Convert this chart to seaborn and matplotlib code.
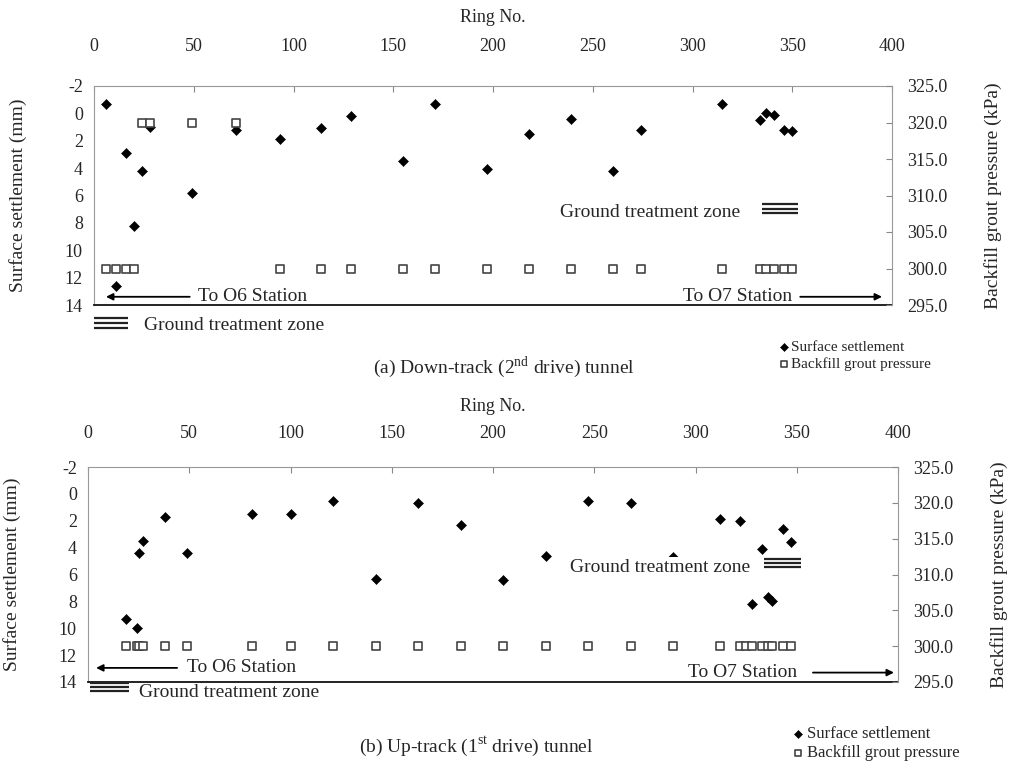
import matplotlib
matplotlib.use('Agg')
import matplotlib.pyplot as plt
import seaborn as sns

# (a) Down-track (2nd drive) tunnel
down_ring = [6, 11, 16, 20, 24, 28, 49, 71, 93, 114, 129, 155, 171, 197, 218, 239,
             260, 274, 315, 334, 337, 341, 346, 350]
down_settle = [-0.7, 12.6, 2.9, 8.2, 4.2, 1.0, 5.8, 1.2, 1.9, 1.1, 0.2, 3.5, -0.7, 4.1,
               1.5, 0.4, 4.2, 1.2, -0.7, 0.5, 0.0, 0.1, 1.2, 1.3]
down_grout_ring = down_ring
down_grout = [300, 300, 300, 300, 320, 320, 320, 320, 300, 300, 300, 300, 300, 300,
              300, 300, 300, 300, 300, 300, 300, 300, 300, 300]

# (b) Up-track (1st drive) tunnel
up_ring = [19, 24, 25, 27, 38, 49, 81, 100, 121, 142, 163, 184, 205, 226, 247, 268,
           289, 312, 322, 328, 333, 336, 338, 343, 347]
up_settle = [9.3, 10.0, 4.4, 3.5, 1.7, 4.4, 1.5, 1.5, 0.5, 6.3, 0.7, 2.3, 6.4, 4.6,
             0.5, 0.7, 4.7, 1.9, 2.0, 8.2, 4.1, 7.7, 8.0, 2.6, 3.6]
up_grout_ring = [19, 24, 25, 27, 38, 49, 81, 100, 121, 142, 163, 184, 205, 226, 247,
                 268, 289, 312, 322, 325, 328, 333, 336, 338, 343, 347]
up_grout = [300] * len(up_grout_ring)

ring_ticks = list(range(0, 401, 50))
settle_ticks = list(range(-2, 15, 2))
grout_ticks = list(range(295, 326, 5))

sns.set_style('white')
plt.rcParams['font.family'] = ['Liberation Serif', 'DejaVu Serif']
plt.rcParams['mathtext.fontset'] = 'custom'
plt.rcParams['mathtext.rm'] = 'Liberation Serif'

W, H = 1009, 765
fig = plt.figure(figsize=(W / 100, H / 100), dpi=100)


def box(l, t, r, b):
    return [l / W, 1 - b / H, (r - l) / W, (b - t) / H]


def zone_mark(ax, x0, x1, ys):
    for y in ys:
        ax.plot([x0, x1], [y, y], color='#222222', lw=1.6, clip_on=False,
                solid_capstyle='butt', zorder=6)


def panel(ax, ring, settle, g_ring, grout, cfg):
    ax2 = ax.twinx()
    sns.scatterplot(x=ring, y=settle, marker='D', s=26, color='black',
                    edgecolor='black', linewidth=0.4, ax=ax, legend=False,
                    label='Surface settlement', zorder=3)
    sns.scatterplot(x=g_ring, y=grout, marker='s', s=36, color='white',
                    edgecolor='#444444', linewidth=1.2, ax=ax2, legend=False,
                    label='Backfill grout pressure', zorder=3)
    ax.set_xlim(0, 400)
    ax.set_ylim(14, -2)
    ax2.set_ylim(295, 325)
    ax.xaxis.tick_top()
    ax.xaxis.set_label_position('top')
    ax.set_xticks(ring_ticks)
    ax.set_xticklabels([str(v) for v in ring_ticks])
    ax.set_yticks(settle_ticks)
    ax.set_yticklabels([str(v) for v in settle_ticks])
    ax2.set_yticks(grout_ticks)
    ax2.set_yticklabels([f'{v:.1f}' for v in grout_ticks])
    ax.tick_params(axis='x', direction='in', length=4, pad=cfg['xpad'], top=True,
                   bottom=False, color='#888888', labelsize=13)
    ax.tick_params(axis='y', length=0, pad=8, labelsize=13)
    ax2.tick_params(axis='y', direction='in', length=4, pad=11, color='#888888',
                    labelsize=13)
    for s in ['left', 'top']:
        ax.spines[s].set_color('#999999')
    ax.spines['bottom'].set_color('#111111')
    ax.spines['bottom'].set_linewidth(1.3)
    ax.spines['right'].set_visible(False)
    for s in ['left', 'top', 'bottom']:
        ax2.spines[s].set_visible(False)
    ax2.spines['right'].set_color('#999999')
    ax.set_xlabel('Ring No.', fontsize=13, labelpad=cfg['xlabpad'])
    ax.set_ylabel('Surface settlement (mm)', fontsize=14, labelpad=27)
    ax2.set_ylabel('Backfill grout pressure (kPa)', fontsize=14, labelpad=26)

    arrow = dict(arrowstyle='-|>', color='black', lw=1.3, mutation_scale=10,
                 shrinkA=0, shrinkB=0)
    y6, y7 = cfg['o6_y'], cfg['o7_y']
    ax.annotate('', xy=(cfg['o6_head'], y6), xytext=(cfg['o6_tail'], y6),
                arrowprops=arrow, annotation_clip=False)
    ax.text(cfg['o6_text'], y6, 'To O6 Station', fontsize=14, ha='left', va='center')
    ax.annotate('', xy=(cfg['o7_head'], y7), xytext=(cfg['o7_tail'], y7),
                arrowprops=arrow, annotation_clip=False)
    ax.text(cfg['o7_text'], y7, 'To O7 Station', fontsize=14, ha='right', va='center')

    # ground treatment zone marks
    ax.text(cfg['gz_out_x'], cfg['gz_out_y'], 'Ground treatment zone', fontsize=14,
            ha='left', va='center', clip_on=False)
    zone_mark(ax, cfg['gz_out_mark'][0], cfg['gz_out_mark'][1], cfg['gz_out_ys'])
    ax2.text(cfg['gz_in_x'], cfg['gz_in_y'], 'Ground treatment zone', fontsize=14,
             ha='right', va='center', zorder=5,
             bbox=dict(facecolor='white', edgecolor='none', pad=1))
    zone_mark(ax2, cfg['gz_in_mark'][0], cfg['gz_in_mark'][1], cfg['gz_in_ys'])
    return ax2


ax_a = fig.add_axes(box(94, 86, 892, 305))
ax_b = fig.add_axes(box(88, 467, 898, 682))

cfg_a = dict(xpad=22, xlabpad=12, o6_y=13.4, o6_head=6, o6_tail=48, o6_text=52,
             o7_y=13.4, o7_head=395, o7_tail=354, o7_text=350,
             gz_out_x=25, gz_out_y=15.5, gz_out_mark=(0, 17),
             gz_out_ys=[14.95, 15.3, 15.65],
             gz_in_x=324, gz_in_y=307.7, gz_in_mark=(335, 353),
             gz_in_ys=[308.8, 308.2, 307.6])
cfg_b = dict(xpad=18, xlabpad=10, o6_y=12.95, o6_head=4, o6_tail=44, o6_text=49,
             o7_y=13.3, o7_head=398, o7_tail=358, o7_text=350,
             gz_out_x=25, gz_out_y=14.75, gz_out_mark=(1, 20),
             gz_out_ys=[14.05, 14.35, 14.65],
             gz_in_x=327, gz_in_y=311.0, gz_in_mark=(334, 352),
             gz_in_ys=[312.2, 311.6, 311.0])

axes2 = []
for ax, ring, settle, g_ring, grout, cfg in [
        (ax_a, down_ring, down_settle, down_grout_ring, down_grout, cfg_a),
        (ax_b, up_ring, up_settle, up_grout_ring, up_grout, cfg_b)]:
    axes2.append(panel(ax, ring, settle, g_ring, grout, cfg))

fig.text(504 / W, 1 - 367 / H, '(a) Down-track (2$^{\\mathrm{nd}}$ drive) tunnel',
         fontsize=14, ha='center', va='center')
fig.text(476 / W, 1 - 747 / H, '(b) Up-track (1$^{\\mathrm{st}}$ drive) tunnel',
         fontsize=14, ha='center', va='center')

for ax, ax2, pos, fs in [(ax_a, axes2[0], (776, 340), 11), (ax_b, axes2[1], (790, 726), 12)]:
    h1, l1 = ax.get_legend_handles_labels()
    h2, l2 = ax2.get_legend_handles_labels()
    fig.legend(h1 + h2, l1 + l2, loc='upper left',
               bbox_to_anchor=(pos[0] / W, 1 - pos[1] / H), frameon=False,
               fontsize=fs, handletextpad=0.0, handlelength=1.0, labelspacing=0.2,
               borderpad=0, borderaxespad=0, markerscale=0.8)

fig.savefig('out.png', dpi=100)
